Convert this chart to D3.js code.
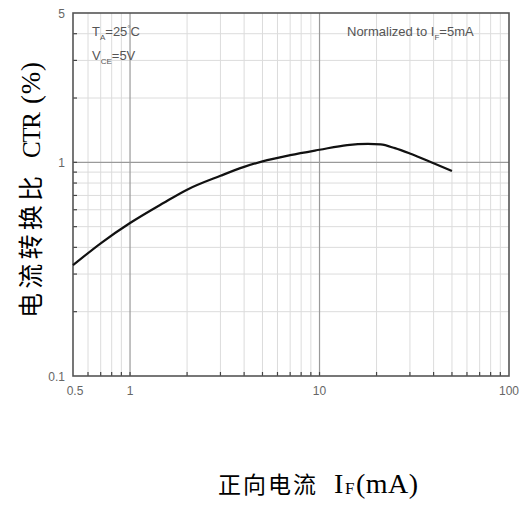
<!DOCTYPE html>
<html><head><meta charset="utf-8">
<script src="https://cdn.jsdelivr.net/npm/d3@7"></script>
<style>body{margin:0;background:#fff}svg{display:block}</style>
</head><body>
<script>
const currentIF = [0.5, 0.7, 1, 1.5, 2, 3, 4, 5, 7, 10, 14, 18, 21, 25, 30, 40, 50];
const ctrValues = [0.33, 0.418, 0.52, 0.645, 0.745, 0.865, 0.952, 1.01, 1.08, 1.145, 1.205, 1.22, 1.213, 1.165, 1.1, 0.99, 0.91];
const xTickValues = [0.5, 1, 10, 100];
const xTickLabels = ["0.5", "1", "10", "100"];
const yTickValues = [0.1, 1, 5];
const yTickLabels = ["0.1", "1", "5"];
const xMinor = [0.6,0.7,0.8,0.9,2,3,4,5,6,7,8,9,20,30,40,50,60,70,80,90];
const yMinor = [0.2,0.3,0.4,0.5,0.6,0.7,0.8,0.9,2,3,4];

const W = 528, H = 505;
const m = {l: 73, r: 19, t: 13, b: 129};
const svg = d3.select("body").append("svg").attr("width", W).attr("height", H);
const x = d3.scaleLog().domain([0.5, 100]).range([m.l, W - m.r]);
const y = d3.scaleLog().domain([0.1, 5]).range([H - m.b, m.t]);

const g = svg.append("g");
g.selectAll(".xm").data(xMinor).enter().append("line")
  .attr("x1", d => x(d)).attr("x2", d => x(d)).attr("y1", y(0.1)).attr("y2", y(5))
  .attr("stroke", "#dcdcdc").attr("stroke-width", 1);
g.selectAll(".ym").data(yMinor).enter().append("line")
  .attr("y1", d => y(d)).attr("y2", d => y(d)).attr("x1", x(0.5)).attr("x2", x(100))
  .attr("stroke", "#dcdcdc").attr("stroke-width", 1);
g.selectAll(".xM").data([1, 10]).enter().append("line")
  .attr("x1", d => x(d)).attr("x2", d => x(d)).attr("y1", y(0.1)).attr("y2", y(5))
  .attr("stroke", "#9a9a9a").attr("stroke-width", 1.2);
g.selectAll(".yM").data([1]).enter().append("line")
  .attr("y1", d => y(d)).attr("y2", d => y(d)).attr("x1", x(0.5)).attr("x2", x(100))
  .attr("stroke", "#9a9a9a").attr("stroke-width", 1.2);

g.selectAll(".xt").data(xMinor.concat([1,10])).enter().append("line")
  .attr("x1", d => x(d)).attr("x2", d => x(d)).attr("y1", y(0.1)).attr("y2", y(0.1) - 4)
  .attr("stroke", "#444").attr("stroke-width", 1.2);
g.selectAll(".yt").data(yMinor.concat([1])).enter().append("line")
  .attr("y1", d => y(d)).attr("y2", d => y(d)).attr("x1", x(0.5)).attr("x2", x(0.5) + 4)
  .attr("stroke", "#444").attr("stroke-width", 1.2);

svg.append("rect").attr("x", x(0.5)).attr("y", y(5))
  .attr("width", x(100) - x(0.5)).attr("height", y(0.1) - y(5))
  .attr("fill", "none").attr("stroke", "#555").attr("stroke-width", 1.6);

const lf = "Liberation Sans, Arial, sans-serif";
svg.selectAll(".xl").data(xTickValues).enter().append("text")
  .attr("x", (d, i) => x(d) + (i === 0 ? 2 : 0)).attr("y", y(0.1) + 19)
  .attr("text-anchor", "middle").attr("font-family", lf).attr("font-size", 12).attr("fill", "#666")
  .text((d, i) => xTickLabels[i]);
svg.selectAll(".yl").data(yTickValues).enter().append("text")
  .attr("x", x(0.5) - 8).attr("y", d => y(d) + 5)
  .attr("text-anchor", "end").attr("font-family", lf).attr("font-size", 12).attr("fill", "#666")
  .text((d, i) => yTickLabels[i]);

const line = d3.line().x(d => x(d[0])).y(d => y(d[1])).curve(d3.curveMonotoneX);
svg.append("path").datum(currentIF.map((v, i) => [v, ctrValues[i]]))
  .attr("d", line).attr("fill", "none").attr("stroke", "#111").attr("stroke-width", 2.2);

const ann = (tx, ty, parts) => {
  const t = svg.append("text").attr("x", tx).attr("y", ty).attr("font-family", lf)
    .attr("font-size", 13).attr("fill", "#555");
  parts.forEach(p => {
    const s = t.append("tspan").text(p[0]);
    if (p[1] === "sub") s.attr("font-size", 8).attr("dy", 4);
    if (p[1] === "sup") s.attr("font-size", 8).attr("dy", -5);
    if (p[1] === "back") s.attr("dy", -4);
    if (p[1] === "up") s.attr("dy", 5);
  });
};
ann(92, 36, [["T"], ["A", "sub"], ["=25", "back"], ["°", "sup"], ["C", "up"]]);
ann(92, 60, [["V"], ["CE", "sub"], ["=5V", "back"]]);
ann(347, 36, [["Normalized to I"], ["F", "sub"], ["=5mA", "back"]]);

// y axis title
const yl = svg.append("g").attr("transform", "translate(40,318) rotate(-90)");
yl.append("text").attr("x", 0).attr("y", 0).attr("font-size", 25)
  .attr("font-family", "Noto Sans CJK SC, sans-serif").attr("fill", "#000")
  .attr("textLength", 142).attr("lengthAdjust", "spacing").text("电流转换比");
yl.append("text").attr("x", 160).attr("y", 0).attr("font-size", 25)
  .attr("font-family", "Liberation Serif, serif").attr("fill", "#000")
  .attr("textLength", 46).text("CTR");
yl.append("text").attr("x", 214).attr("y", 0).attr("font-size", 27)
  .attr("font-family", "Liberation Serif, serif").attr("fill", "#000")
  .attr("textLength", 42).text("(%)");

// x axis title
svg.append("text").attr("x", 218).attr("y", 493).attr("font-size", 23)
  .attr("font-family", "Noto Sans CJK SC, sans-serif").attr("fill", "#000")
  .attr("textLength", 98).attr("lengthAdjust", "spacing").text("正向电流");
svg.append("text").attr("x", 334).attr("y", 493).attr("font-size", 28)
  .attr("font-family", "Liberation Serif, serif").attr("fill", "#000").text("I");
svg.append("text").attr("x", 345).attr("y", 494).attr("font-size", 17)
  .attr("font-family", "Liberation Serif, serif").attr("fill", "#000").text("F");
svg.append("text").attr("x", 356).attr("y", 493).attr("font-size", 28)
  .attr("font-family", "Liberation Serif, serif").attr("fill", "#000")
  .attr("textLength", 62).text("(mA)");
</script>
</body></html>
